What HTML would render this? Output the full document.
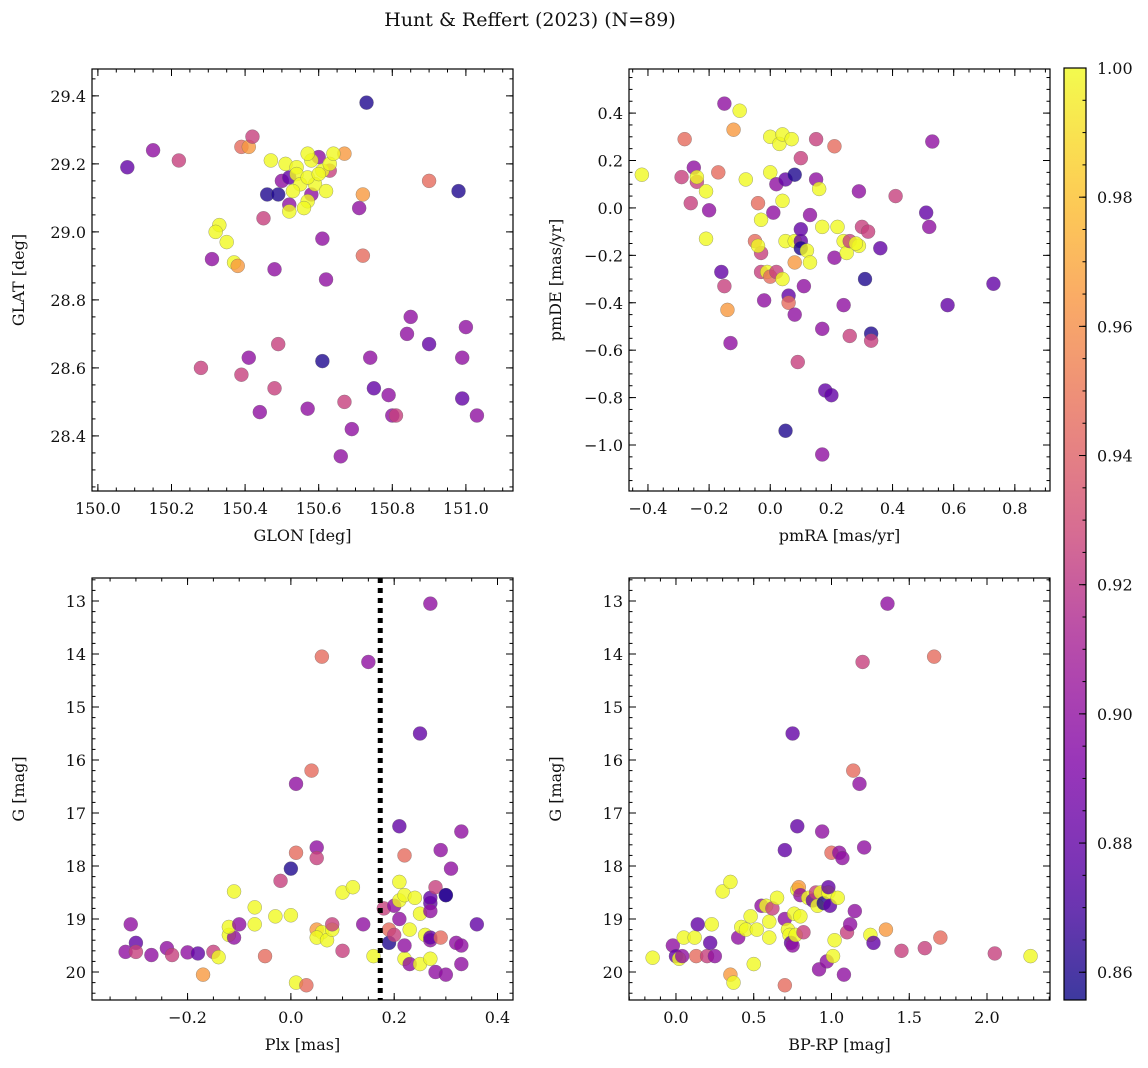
<!DOCTYPE html>
<html><head><meta charset="utf-8">
<style>
html,body{margin:0;padding:0;background:#fff;}
svg{display:block;font-family:"DejaVu Serif","Liberation Serif",serif;}
</style></head>
<body>
<svg id="fig" width="1148" height="1068" viewBox="0 0 1148 1068" xmlns="http://www.w3.org/2000/svg">
<text x="530" y="26" text-anchor="middle" font-size="19" fill="#111">Hunt &amp; Reffert (2023) (N=89)</text>
</svg>
<script>
// ---- data ----
// color class values (membership probability)
const Y=1.0, O=0.965, S=0.945, P=0.925, U=0.90, V=0.88, D=0.86;
const glon = [150.08,150.15,150.22,150.39,150.41,150.42,150.73,150.46,150.49,150.45,150.33,150.32,150.31,150.35,150.37,150.38,150.48,150.61,150.62,150.72,150.72,150.71,150.67,150.90,150.98,150.85,150.84,150.90,151.0,150.99,150.99,151.03,150.28,150.41,150.49,150.39,150.48,150.44,150.61,150.74,150.75,150.79,150.80,150.81,150.67,150.57,150.69,150.66,150.60,150.63,150.52,150.58,150.50,150.52,150.47,150.51,150.54,150.58,150.57,150.61,150.63,150.64,150.54,150.55,150.57,150.56,150.52,150.53,150.59,150.62,150.57,150.60];
const glat = [29.19,29.24,29.21,29.25,29.25,29.28,29.38,29.11,29.11,29.04,29.02,29.00,28.92,28.97,28.91,28.90,28.89,28.98,28.86,28.93,29.11,29.07,29.23,29.15,29.12,28.75,28.70,28.67,28.72,28.63,28.51,28.46,28.60,28.63,28.67,28.58,28.54,28.47,28.62,28.63,28.54,28.52,28.46,28.46,28.50,28.48,28.42,28.34,29.22,29.18,29.08,29.11,29.15,29.16,29.21,29.20,29.19,29.21,29.23,29.18,29.20,29.23,29.17,29.14,29.09,29.07,29.06,29.12,29.14,29.12,29.16,29.17];
const c1 = [V,U,P,S,O,P,D,D,D,P,Y,Y,U,Y,Y,O,U,U,U,S,O,U,O,S,D,U,U,V,U,U,V,U,P,U,P,P,P,U,D,U,V,U,U,P,P,U,U,U,U,P,U,U,U,V,Y,Y,Y,Y,Y,Y,Y,Y,Y,Y,Y,Y,Y,Y,Y,Y,Y,Y];
const pmra = [-0.42,-0.28,-0.29,-0.25,-0.24,-0.26,-0.24,-0.21,-0.2,-0.21,-0.17,-0.15,-0.12,-0.1,-0.16,-0.15,-0.14,-0.13,-0.08,-0.03,-0.03,-0.02,-0.05,-0.04,-0.03,-0.04,-0.01,0.0,0.02,0.0,0.0,0.03,0.04,0.07,0.02,0.04,0.05,0.01,0.04,0.05,0.06,0.06,0.08,0.09,0.08,0.08,0.1,0.1,0.1,0.12,0.13,0.1,0.08,0.11,0.13,0.15,0.15,0.16,0.17,0.17,0.18,0.2,0.17,0.05,0.21,0.22,0.21,0.24,0.25,0.26,0.29,0.28,0.24,0.26,0.29,0.3,0.32,0.31,0.33,0.33,0.36,0.41,0.51,0.52,0.53,0.58,0.73];
const pmde = [0.14,0.29,0.13,0.17,0.11,0.02,0.13,0.07,-0.01,-0.13,0.15,0.44,0.33,0.41,-0.27,-0.33,-0.43,-0.57,0.12,-0.27,-0.19,-0.39,-0.14,-0.16,-0.05,0.02,-0.27,-0.29,-0.27,0.15,0.3,0.27,0.31,0.29,0.1,0.03,0.12,-0.02,-0.3,-0.14,-0.37,-0.4,-0.45,-0.65,-0.23,-0.14,-0.14,-0.09,-0.17,-0.18,-0.23,0.21,0.14,-0.33,-0.03,0.12,0.29,0.08,-0.08,-0.51,-0.77,-0.79,-1.04,-0.94,0.26,-0.08,-0.21,-0.14,-0.19,-0.14,-0.16,-0.15,-0.41,-0.54,0.07,-0.08,-0.1,-0.3,-0.53,-0.56,-0.17,0.05,-0.02,-0.08,0.28,-0.41,-0.32];
const c2 = [Y,S,P,U,P,P,Y,Y,U,Y,S,U,O,Y,V,P,O,U,Y,P,P,U,S,Y,Y,S,Y,S,P,Y,Y,Y,Y,Y,U,Y,V,U,Y,Y,V,S,U,P,O,Y,V,V,D,Y,Y,P,D,U,U,U,P,Y,Y,U,V,V,U,D,S,Y,U,Y,Y,P,Y,Y,U,P,U,P,P,D,D,P,V,P,V,U,U,V,V];
const plx = [-0.32,-0.31,-0.3,-0.3,-0.24,-0.27,-0.23,-0.2,-0.18,-0.17,-0.15,-0.14,-0.12,-0.11,-0.11,-0.12,-0.1,-0.07,-0.07,-0.05,-0.03,0.0,-0.02,0.0,0.01,0.01,0.01,0.03,0.05,0.05,0.04,0.06,0.05,0.06,0.05,0.07,0.08,0.08,0.1,0.1,0.12,0.14,0.15,0.16,0.18,0.19,0.19,0.2,0.2,0.21,0.21,0.21,0.22,0.21,0.22,0.22,0.22,0.23,0.24,0.23,0.25,0.25,0.25,0.26,0.27,0.27,0.27,0.27,0.27,0.27,0.28,0.28,0.27,0.29,0.29,0.3,0.3,0.3,0.31,0.32,0.33,0.33,0.33,0.36];
const gmag3 = [19.62,19.1,19.45,19.62,19.55,19.68,19.68,19.63,19.65,20.05,19.62,19.72,19.3,19.35,18.48,19.15,19.1,18.78,19.1,19.7,18.95,18.93,18.28,18.05,16.45,17.75,20.2,20.25,17.65,17.85,16.2,14.05,19.2,19.25,19.35,19.4,19.2,19.1,19.6,18.5,18.4,19.1,14.15,19.7,18.8,19.2,19.45,18.75,19.3,18.65,18.3,17.25,17.8,19.0,19.75,19.5,18.55,19.2,18.6,19.85,18.9,19.85,15.5,19.3,19.4,19.35,19.75,18.7,18.6,18.85,18.4,20.0,13.05,17.7,19.35,20.05,18.55,18.55,18.05,19.45,17.35,19.5,19.85,19.1];
const c3 = [U,U,V,P,U,U,P,U,V,O,P,Y,Y,U,Y,Y,U,Y,Y,S,Y,Y,P,D,U,S,Y,S,U,P,S,S,O,Y,Y,Y,Y,P,P,Y,Y,U,U,Y,P,S,D,U,P,Y,Y,V,S,U,Y,U,Y,Y,Y,U,Y,Y,V,Y,U,V,Y,V,V,U,P,U,U,U,S,U,V,D,U,U,U,U,U,V];
const bprp = [-0.15,-0.02,0.0,0.02,0.04,0.05,0.12,0.13,0.14,0.2,0.22,0.23,0.25,0.3,0.35,0.35,0.37,0.4,0.42,0.45,0.48,0.5,0.52,0.55,0.58,0.6,0.6,0.62,0.65,0.7,0.7,0.7,0.72,0.73,0.74,0.75,0.75,0.76,0.77,0.78,0.78,0.79,0.8,0.8,0.82,0.85,0.88,0.9,0.91,0.92,0.93,0.94,0.95,0.97,0.98,0.98,0.99,1.0,1.01,1.02,1.04,1.05,1.07,1.08,1.1,1.12,1.14,1.15,1.18,1.2,1.21,1.25,1.27,1.35,1.36,1.45,1.6,1.66,1.7,2.05,2.28];
const gmag4 = [19.73,19.5,19.7,19.75,19.7,19.35,19.35,19.7,19.1,19.7,19.45,19.1,19.7,18.48,18.3,20.05,20.2,19.35,19.15,19.2,18.95,19.85,19.2,18.75,18.75,19.05,19.35,18.8,18.6,20.25,17.7,19.0,19.2,19.3,19.45,19.5,15.5,18.9,19.3,17.25,18.45,18.4,18.55,18.95,19.25,18.6,18.65,18.5,18.75,19.95,18.5,17.35,18.7,19.8,18.5,18.4,18.75,17.75,19.7,19.4,18.6,17.75,17.85,20.05,19.25,19.1,16.2,18.85,16.45,14.15,17.65,19.3,19.45,19.2,13.05,19.6,19.55,14.05,19.35,19.65,19.7];
const c4 = [Y,U,V,Y,U,Y,Y,S,V,P,V,Y,U,Y,Y,O,Y,U,Y,Y,Y,Y,Y,U,Y,Y,Y,P,Y,S,V,U,Y,Y,V,U,V,Y,Y,V,Y,O,U,Y,P,Y,V,P,Y,U,Y,U,D,U,Y,V,V,S,Y,Y,Y,U,U,U,P,U,S,U,U,P,U,Y,V,O,U,P,P,S,S,P,Y];
const cbTicks = [0.86,0.88,0.90,0.92,0.94,0.96,0.98,1.00];

// ---- rendering ----
const NS="http://www.w3.org/2000/svg";
const svg=document.getElementById('fig');
function mk(tag,attrs,parent){const e=document.createElementNS(NS,tag);for(const k in attrs)e.setAttribute(k,attrs[k]);(parent||svg).appendChild(e);return e;}
const VMIN=0.8557,VMAX=1.0;
const stops=[[13,8,135],[84,2,163],[126,3,168],[163,29,151],[204,71,120],[230,108,92],[248,149,64],[253,196,39],[240,249,33]];
function plasma(v){let t=(v-VMIN)/(VMAX-VMIN);t=Math.max(0,Math.min(1,t));const f=t*(stops.length-1);const i=Math.min(stops.length-2,Math.floor(f));const r=f-i;const a=stops[i],b=stops[i+1];return 'rgb('+[0,1,2].map(k=>Math.round(a[k]+(b[k]-a[k])*r)).join(',')+')';}

function panel(name,box,xr,yr,xMaj,xMin,yMaj,yMin,xFmt,yFmt,xlab,ylab,xs,ys,cs){
  const [L,T,R,B]=box;
  const g=mk('g',{});
  
  
  const sx=v=>L+(v-xr[0])/(xr[1]-xr[0])*(R-L);
  const sy=v=>T+(yr[1]-v)/(yr[1]-yr[0])*(B-T);
  const pts=mk('g',{},g);
  
  
  for(let i=0;i<xs.length;i++){
    const c=mk('circle',{cx:sx(xs[i]),cy:sy(ys[i]),r:7,fill:plasma(cs[i]),'fill-opacity':0.8,stroke:'#666','stroke-width':0.5,'stroke-opacity':0.6},pts);
    
    
  }
  const fr=mk('rect',{x:L,y:T,width:R-L,height:B-T,fill:'none',stroke:'#000','stroke-width':1.2},g);
  
  
  const eps=1e-9;
  const lo=Math.min(yr[0],yr[1]),hi=Math.max(yr[0],yr[1]);
  function ticks(step,a,b){const out=[];for(let v=Math.ceil(a/step-eps)*step;v<=b+eps;v+=step)out.push(+v.toFixed(6));return out;}
  ticks(xMin,xr[0],xr[1]).forEach(v=>{const x=sx(v);mk('line',{x1:x,x2:x,y1:B,y2:B-3.5,stroke:'#000'},g);mk('line',{x1:x,x2:x,y1:T,y2:T+3.5,stroke:'#000'},g);});
  ticks(xMaj,xr[0],xr[1]).forEach(v=>{const x=sx(v);mk('line',{x1:x,x2:x,y1:B,y2:B-7,stroke:'#000'},g);mk('line',{x1:x,x2:x,y1:T,y2:T+7,stroke:'#000'},g);
    const t=mk('text',{x:x,y:B+23,'text-anchor':'middle','font-size':16,fill:'#111'},g);t.textContent=xFmt(v);
    
    });
  ticks(yMin,lo,hi).forEach(v=>{const y=sy(v);mk('line',{x1:L,x2:L+3.5,y1:y,y2:y,stroke:'#000'},g);mk('line',{x1:R,x2:R-3.5,y1:y,y2:y,stroke:'#000'},g);});
  ticks(yMaj,lo,hi).forEach(v=>{const y=sy(v);mk('line',{x1:L,x2:L+7,y1:y,y2:y,stroke:'#000'},g);mk('line',{x1:R,x2:R-7,y1:y,y2:y,stroke:'#000'},g);
    const t=mk('text',{x:L-6,y:y+6,'text-anchor':'end','font-size':16,fill:'#111'},g);t.textContent=yFmt(v);
    
    });
  const xl=mk('text',{x:(L+R)/2,y:B+50,'text-anchor':'middle','font-size':16,fill:'#111'},g);xl.textContent=xlab;
  
  
  const yl=mk('text',{x:0,y:0,'text-anchor':'middle','font-size':16,fill:'#111',transform:'translate('+(L-68)+','+((T+B)/2)+') rotate(-90)'},g);yl.textContent=ylab;
  
  
  return {sx,sy,g};
}
const minus=s=>s.replace('-','\u2212');
const f1=v=>minus(v.toFixed(1)), f0=v=>minus(v.toFixed(0));

panel('glon-glat-panel',[92,69,513,491],[149.984,151.128],[28.238,29.479],0.2,0.05,0.2,0.05,f1,f1,'GLON [deg]','GLAT [deg]',glon,glat,c1);
panel('pm-panel',[629,69,1050,491],[-0.462,0.915],[-1.194,0.586],0.2,0.05,0.2,0.05,f1,f1,'pmRA [mas/yr]','pmDE [mas/yr]',pmra,pmde,c2);
const p3=panel('plx-g-panel',[92,578,513,1000],[-0.385,0.430],[20.528,12.566],0.2,0.05,1,0.2,f1,f0,'Plx [mas]','G [mag]',plx,gmag3,c3);
panel('cmd-panel',[629,578,1050,1000],[-0.302,2.405],[20.528,12.566],0.5,0.1,1,0.2,f1,f0,'BP-RP [mag]','G [mag]',bprp,gmag4,c4);
// fix inverted y ranges: sy already handles since yr[1] is top
const plxCut=0.173;
const vl=mk('line',{x1:p3.sx(plxCut),x2:p3.sx(plxCut),y1:578,y2:1000,stroke:'#000','stroke-width':5,'stroke-dasharray':'5,5'});



// colorbar
const cb=mk('g',{});


const defs=mk('defs',{},cb);
const gr=mk('linearGradient',{id:'cbg',x1:0,y1:1,x2:0,y2:0},defs);
for(let i=0;i<=20;i++){const v=VMIN+(VMAX-VMIN)*i/20;mk('stop',{offset:(i/20),'stop-color':plasma(v),'stop-opacity':0.8},gr);}
const CT=68,CB=1000,CL=1064,CR=1086;
mk('rect',{x:CL,y:CT,width:CR-CL,height:CB-CT,fill:'url(#cbg)',stroke:'#000','stroke-width':1.2},cb);
const cy=v=>CB-(v-VMIN)/(VMAX-VMIN)*(CB-CT);
for(let v=0.86;v<=1.0001;v+=0.005){mk('line',{x1:CR,x2:CR-3.5,y1:cy(v),y2:cy(v),stroke:'#000'},cb);}
cbTicks.forEach(v=>{const y=cy(v);mk('line',{x1:CR,x2:CR-7,y1:y,y2:y,stroke:'#000'},cb);
  const t=mk('text',{x:CR+11,y:y+6,'font-size':16,fill:'#111'},cb);t.textContent=v.toFixed(2);
  
  });
</script>
</body></html>
